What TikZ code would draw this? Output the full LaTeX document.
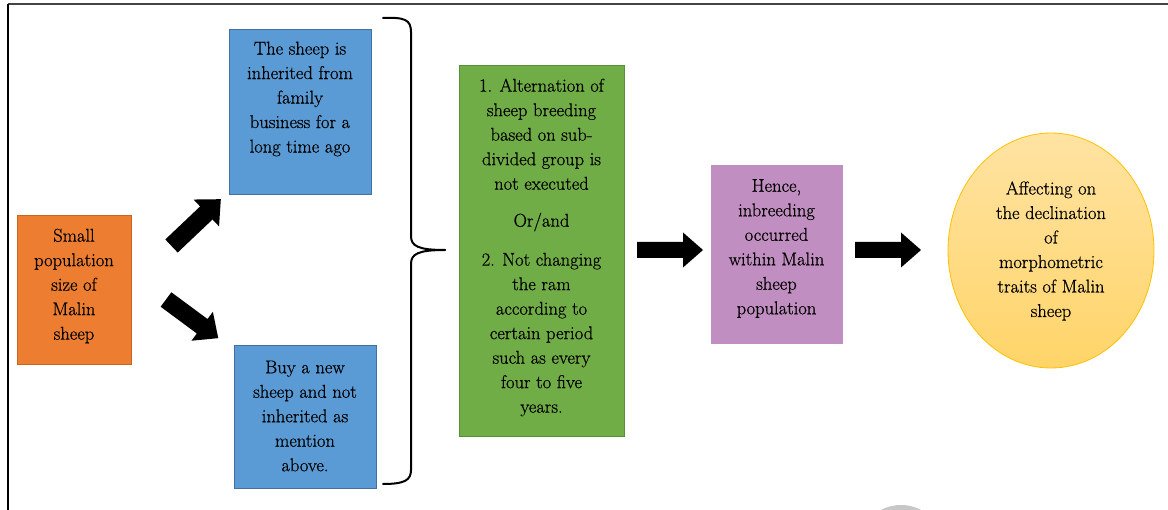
\documentclass[tikz,border=0pt]{standalone}
\usepackage{fontspec}
\newfontfamily\tnrfont{Latin Modern Roman}[FakeBold=0.6]
\usetikzlibrary{shapes.geometric}
\definecolor{orangeF}{HTML}{ED7D31}
\definecolor{orangeD}{HTML}{C9651F}
\definecolor{blueF}{HTML}{5B9BD5}
\definecolor{blueD}{HTML}{41719C}
\definecolor{greenF}{HTML}{70AD47}
\definecolor{greenD}{HTML}{5A8E38}
\definecolor{purpleF}{HTML}{C08EC0}
\definecolor{yellowT}{HTML}{FFE3A2}
\definecolor{yellowB}{HTML}{FFD469}
\definecolor{yellowD}{HTML}{FFC000}
\definecolor{frameC}{HTML}{444444}
\newcommand{\myblockarrow}[7]{% name, tail x, tail y, angle, L, w, h
  \begin{scope}[shift={(#2,#3)}, rotate=#4]
    \coordinate (#1) at (0,0);
    \fill[black] (0,-#6) -- (#5-20,-#6) -- (#5-20,-#7) -- (#5,0) -- (#5-20,#7) -- (#5-20,#6) -- (0,#6) -- cycle;
  \end{scope}}
\begin{document}
\begin{tikzpicture}[x=1pt,y=-1pt,
  box/.style={draw, line width=0.8pt, inner sep=0pt},
  txt/.style={align=center, inner sep=0pt, font=\tnrfont\fontsize{18.5}{24.5}\selectfont, text=black},
  bracestyle/.style={draw=black, line width=2pt, line cap=round, line join=round}]
\useasboundingbox (0,0) rectangle (1168,510);
\clip (0,0) rectangle (1168,510);
% frame
\draw[frameC, line width=2pt] (8,4) -- (1168,4);
\draw[black, line width=1.4pt] (8,4) -- (8,510);
% grey mark at bottom
\fill[black!22] (901,548) circle (43);
% boxes
\node[box, fill=orangeF, draw=orangeD, minimum width=114, minimum height=149] (small) at (74,289.5) {};
\node[txt] (smallT) at (74,286) {Small\\population\\size of\\Malin\\sheep};
\node[box, fill=blueF, draw=blueD, minimum width=142, minimum height=165] (inh) at (300,111.5) {};
\node[txt] (inhT) at (300,99) {The sheep is\\inherited from\\family\\business for a\\long time ago};
\node[box, fill=blueF, draw=blueD, minimum width=142, minimum height=143] (buy) at (305,416.5) {};
\node[txt] (buyT) at (305,416) {Buy a new\\sheep and not\\inherited as\\mention\\above.};
\node[box, fill=greenF, draw=greenD, minimum width=165, minimum height=371] (alt) at (541.5,250.5) {};
\node[txt] (altT) at (541.5,247.5) {1. Alternation of\\sheep breeding\\based on sub-\\divided group is\\not executed\\[12.5pt]Or/and\\[14.5pt]2. Not changing\\the ram\\according to\\certain period\\such as every\\four to five\\years.};
\node[box, fill=purpleF, draw=purpleF, minimum width=131, minimum height=178] (hence) at (776.5,254) {};
\node[txt] (henceT) at (776.5,248.5) {Hence,\\inbreeding\\occurred\\within Malin\\sheep\\population};
\node[ellipse, draw=yellowD, line width=0.8pt, top color=yellowT, bottom color=yellowB, minimum width=206, minimum height=235, inner sep=0pt] (aff) at (1051,250.5) {};
\node[txt] (affT) at (1051,251) {Affecting on\\the declination\\of\\morphometric\\traits of Malin\\sheep};
% block arrows
\myblockarrow{arrUp}{171.5}{246}{43.5}{68}{9}{18.5}
\myblockarrow{arrDown}{166}{299.5}{-36.5}{65}{9}{18}
\myblockarrow{arrA}{637}{250}{0}{66}{8}{17.5}
\myblockarrow{arrB}{855}{250}{0}{66}{8}{17.5}
% brace
\coordinate (brTop) at (383,18);
\coordinate (brMid) at (445,250);
\coordinate (brBot) at (383,484);
\draw[bracestyle] (brTop) .. controls (405,17) and (411,20) .. (411,32) -- (411,236) .. controls (411,246) and (418,250) .. (brMid);
\draw[bracestyle] (brMid) .. controls (418,250) and (411,254) .. (411,264) -- (411,470) .. controls (411,480) and (405,484) .. (brBot);
\end{tikzpicture}
\end{document}
